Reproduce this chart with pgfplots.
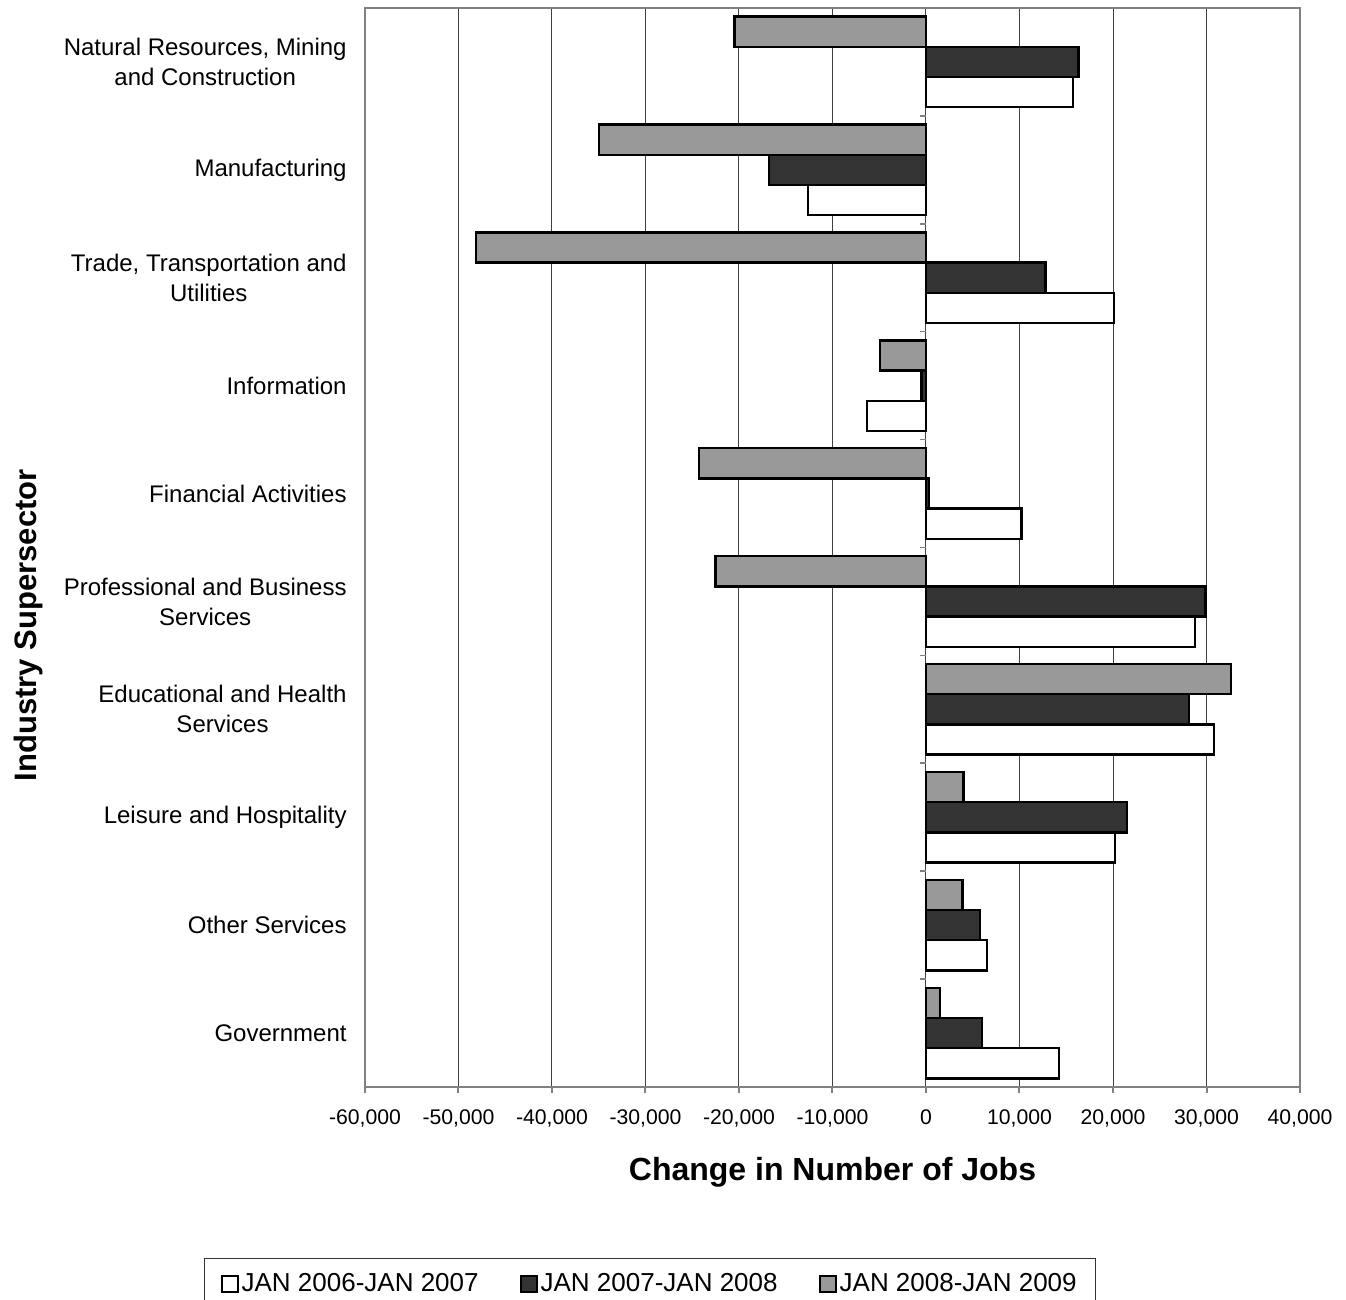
\documentclass[border=0pt]{standalone}
\usepackage{fontspec}
\setmainfont{Liberation Sans}
\usepackage{pgfplots}
\usepackage{pgfplotstable}
\pgfplotsset{compat=1.18}
\definecolor{barDark}{HTML}{333333}
\definecolor{barGray}{HTML}{999999}
\definecolor{frameGray}{HTML}{808080}

% idx 9 = top category (Natural Resources), 0 = Government
\pgfplotstableread{
idx   w       d       g
9     15700   16300   -20500
8    -12600  -16800   -35000
7     20100   12800   -48100
6    -6300   -500     -4900
5     10200   300     -24300
4     28800   29900   -22500
3     30800   28100    32600
2     20200   21500    4000
1     6500    5800     3900
0     14200   6000     1500
}\jobs

\begin{document}
\begin{tikzpicture}
\useasboundingbox (0,0) rectangle (673pt,650pt);
\begin{axis}[
  at={(182.5pt,106.5pt)}, anchor=south west,
  scale only axis, width=467.5pt, height=539.5pt,
  xbar, bar width=0.28,
  xmin=-60000, xmax=40000,
  ymin=-0.5, ymax=9.5,
  axis line style={frameGray, line width=1pt},
  xtick={-60000,-50000,...,40000},
  scaled x ticks=false,
  xtick pos=bottom, tick align=outside,
  major tick length=3pt,
  x tick style={frameGray, line width=1pt},
  xmajorgrids, grid style={black!75, line width=0.5pt},
  /pgf/number format/.cd, fixed, 1000 sep={,}, assume math mode=true,
  /pgfplots/.cd,
  xticklabel style={inner sep=0pt, yshift=-8pt, font=\fontsize{10.6}{12.7}\selectfont},
  ytick={0,...,9},
  y tick style={draw=none},
  yticklabels={Government, Other Services, Leisure and Hospitality,
    {Educational and Health\\Services}, {Professional and Business\\Services},
    Financial Activities, Information, {Trade, Transportation and\\Utilities},
    Manufacturing, {Natural Resources, Mining\\and Construction}},
  yticklabel style={align=center, inner sep=0pt, xshift=-6pt,
    font=\fontsize{12}{15}\selectfont},
  xlabel={Change in Number of Jobs},
  xlabel style={at={(axis description cs:0.5,0)}, anchor=center, yshift=-42.5pt,
    font=\bfseries\fontsize{16}{19}\selectfont},
  ylabel={Industry Supersector},
  ylabel style={at={(axis description cs:-0.3604,0.428)}, anchor=center,
    font=\bfseries\fontsize{15.5}{18}\selectfont},
  legend columns=3,
  legend image code/.code={\draw[#1, line width=1pt] (0pt,-4pt) rectangle (8pt,4pt);},
  legend style={at={(axis description cs:0.305,0)}, anchor=north, yshift=-85.5pt,
    draw=black!80, line width=0.5pt, inner xsep=8pt, inner ysep=6pt,
    font=\fontsize{13}{16}\selectfont,
    /tikz/every even column/.append style={column sep=19pt},
    nodes={inner sep=1.5pt}},
]
\addplot[draw=black, line width=1.2pt, fill=white, bar shift=-0.28]
  table[x=w, y=idx] {\jobs};
\addplot[draw=black, line width=1.2pt, fill=barDark, bar shift=0]
  table[x=d, y=idx] {\jobs};
\addplot[draw=black, line width=1.2pt, fill=barGray, bar shift=0.28]
  table[x=g, y=idx] {\jobs};
\legend{JAN 2006-JAN 2007, JAN 2007-JAN 2008, JAN 2008-JAN 2009}
\pgfplotsinvokeforeach{0.5,1.5,...,8.5}{
  \draw[frameGray, line width=0.8pt] (axis cs:0,#1) -- ([xshift=-3pt]axis cs:0,#1);
}
\end{axis}
\end{tikzpicture}
\end{document}
